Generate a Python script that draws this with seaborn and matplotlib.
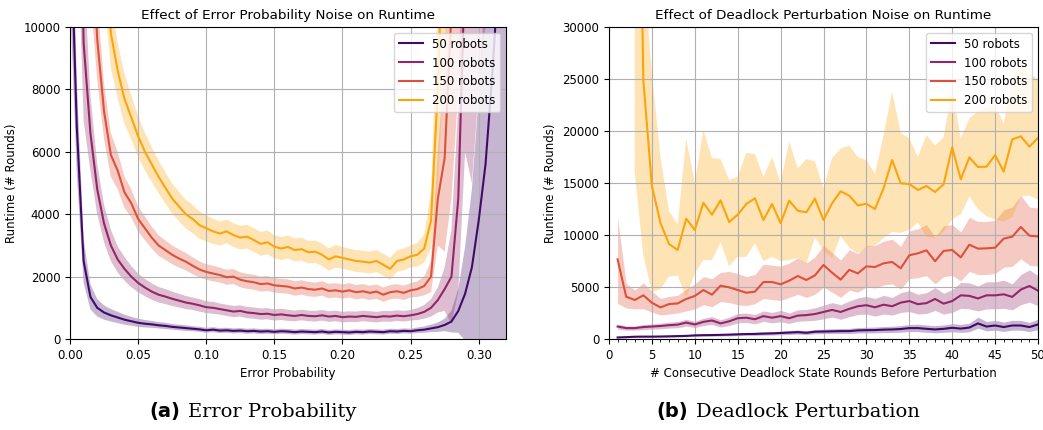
import numpy as np
import pandas as pd
import matplotlib
matplotlib.use("Agg")
import matplotlib.pyplot as plt
import seaborn as sns
from matplotlib.ticker import MultipleLocator, FormatStrFormatter

robots = ["50 robots", "100 robots", "150 robots", "200 robots"]

# ---- (a) error probability sweep ----
err_prob = np.round(np.arange(0, 0.3201, 0.005), 3)

ep_50 = [14000, 6800, 2500, 1350, 1000, 850, 760, 690, 620, 570, 520, 490, 470, 440, 420, 390, 370,
         350, 330, 310, 280, 300, 270, 280, 260, 270, 250, 260, 240, 250, 230, 250, 240, 220, 240,
         230, 220, 240, 210, 230, 220, 210, 230, 220, 240, 230, 220, 250, 240, 260, 250, 280, 300,
         340, 380, 450, 560, 900, 1450, 2300, 3800, 5600, 8500, 12000, 16000]
ep_100 = [40000, 20000, 9500, 6600, 4800, 3700, 3000, 2550, 2250, 2000, 1800, 1650, 1520, 1420, 1360,
          1290, 1230, 1170, 1130, 1080, 1020, 1000, 960, 920, 880, 900, 850, 830, 800, 810, 770, 790,
          760, 740, 770, 740, 730, 760, 720, 740, 700, 720, 710, 740, 720, 700, 730, 720, 750, 730,
          760, 800, 870, 1000, 1250, 1600, 2000, 4500, 12000, 15000, 20000, 24000, 28000, 32000, 36000]
ep_150 = [60000, 35000, 22000, 14000, 9600, 7300, 5900, 5400, 4700, 4350, 3850, 3550, 3250, 3000, 2850,
          2700, 2580, 2480, 2350, 2230, 2150, 2100, 2050, 1980, 2000, 1900, 1850, 1820, 1760, 1780,
          1720, 1700, 1680, 1620, 1650, 1600, 1580, 1620, 1540, 1560, 1520, 1560, 1500, 1530, 1480,
          1520, 1420, 1500, 1530, 1480, 1560, 1600, 1700, 2000, 4500, 5800, 10500, 18000, 25000,
          30000, 35000, 40000, 45000, 50000, 55000]
ep_200 = [80000, 50000, 35000, 25000, 18000, 13500, 9800, 8600, 7700, 7100, 6500, 6000, 5600, 5200,
          4850, 4500, 4250, 4000, 3850, 3650, 3550, 3450, 3380, 3450, 3330, 3250, 3280, 3170, 3050,
          3100, 2960, 2900, 2950, 2850, 2880, 2780, 2800, 2700, 2550, 2650, 2600, 2550, 2500, 2480,
          2450, 2500, 2380, 2250, 2500, 2550, 2650, 2700, 2900, 3800, 8000, 15000, 22000, 30000,
          38000, 45000, 52000, 60000, 68000, 75000, 80000]

# half width of the shaded band
ep_50_hw = [3000, 1500, 700, 400, 280, 230, 200, 180, 160, 140, 130, 120, 110, 100, 100, 90, 90, 90,
            80, 80, 80, 80, 80, 80, 80, 80, 80, 80, 80, 80, 80, 80, 80, 80, 80, 80, 80, 80, 80, 80,
            80, 80, 80, 80, 80, 80, 80, 80, 80, 80, 80, 90, 100, 120, 150, 200, 350, 700, 1500, 2500,
            4000, 6000, 8500, 12000, 16000]
ep_100_hw = [10000, 6000, 2500, 1200, 800, 600, 500, 420, 380, 340, 300, 280, 260, 250, 240, 230, 220,
             210, 200, 200, 190, 190, 180, 180, 180, 180, 180, 180, 180, 180, 180, 180, 180, 170, 170,
             170, 170, 170, 170, 170, 170, 170, 170, 170, 170, 170, 170, 170, 170, 170, 170, 190, 220,
             280, 400, 700, 1500, 3000, 6000, 10000, 12000, 14000, 16000, 18000, 20000]
ep_150_hw = [20000, 12000, 8000, 3000, 1300, 900, 700, 600, 500, 450, 400, 380, 350, 330, 310, 300, 290,
             280, 270, 260, 250, 250, 240, 240, 240, 240, 240, 240, 240, 240, 230, 230, 230, 230, 230,
             230, 230, 230, 230, 230, 230, 230, 230, 230, 230, 230, 230, 230, 230, 230, 230, 250, 300,
             500, 1500, 3000, 6000, 10000, 14000, 18000, 20000, 22000, 24000, 26000, 28000]
ep_200_hw = [30000, 20000, 15000, 10000, 6000, 2500, 1100, 900, 800, 700, 650, 600, 560, 520, 500, 480,
             470, 460, 450, 440, 420, 400, 390, 380, 380, 380, 380, 380, 380, 380, 370, 370, 370, 370,
             370, 360, 360, 360, 360, 360, 350, 350, 350, 350, 350, 350, 350, 350, 350, 350, 350, 380,
             450, 900, 3000, 6000, 10000, 14000, 18000, 22000, 26000, 30000, 34000, 38000, 40000]

# ---- (b) deadlock perturbation sweep ----
rounds = np.arange(1, 51)

dp_50 = [150, 180, 220, 230, 230, 240, 260, 280, 300, 350, 370, 380, 400, 420, 450, 480, 490, 520, 540,
         580, 620, 660, 600, 700, 720, 740, 760, 760, 830, 850, 860, 900, 920, 960, 1050, 1050, 980,
         920, 980, 1080, 1000, 1100, 1500, 1200, 1300, 1150, 1300, 1300, 1150, 1400]
dp_50_lo = [100, 130, 160, 170, 170, 180, 190, 200, 220, 260, 270, 280, 290, 300, 330, 350, 350, 370,
            380, 410, 440, 470, 420, 500, 510, 520, 530, 520, 580, 590, 590, 620, 630, 650, 720, 710,
            650, 600, 640, 700, 640, 700, 1050, 780, 850, 730, 850, 850, 720, 900]
dp_50_hi = [200, 240, 290, 300, 300, 310, 340, 370, 390, 450, 480, 490, 520, 550, 580, 620, 640, 680,
            710, 760, 820, 870, 800, 920, 950, 980, 1010, 1020, 1100, 1130, 1150, 1200, 1230, 1290, 1400,
            1420, 1350, 1280, 1350, 1480, 1400, 1530, 2100, 1680, 1800, 1620, 1800, 1780, 1600, 1900]

dp_100 = [1200, 1050, 1050, 1150, 1200, 1250, 1330, 1380, 1580, 1400, 1650, 1780, 1500, 1700, 2000, 2050,
          1900, 2200, 2050, 2200, 2000, 2250, 2300, 2400, 2600, 2800, 2600, 2900, 3150, 3250, 3050, 3300,
          3150, 3500, 3650, 3350, 3450, 3850, 3400, 3650, 4200, 4150, 3900, 4200, 4200, 4300, 4050, 4750,
          5100, 4650]
dp_100_lo = [950, 850, 850, 900, 950, 980, 1050, 1080, 1250, 1100, 1300, 1400, 1150, 1300, 1550, 1600,
             1450, 1700, 1550, 1650, 1500, 1700, 1750, 1800, 1950, 2100, 1900, 2150, 2350, 2400, 2200,
             2400, 2300, 2550, 2650, 2400, 2450, 2750, 2400, 2550, 2950, 2900, 2700, 2900, 2900, 2950,
             2800, 3300, 3550, 3200]
dp_100_hi = [1450, 1250, 1250, 1400, 1450, 1520, 1620, 1680, 1900, 1700, 2000, 2150, 1850, 2100, 2450,
             2500, 2350, 2700, 2550, 2750, 2500, 2800, 2850, 3000, 3250, 3500, 3300, 3650, 3950, 4100,
             3900, 4200, 4000, 4450, 4650, 4300, 4450, 4950, 4400, 4750, 5450, 5400, 5100, 5500, 5500,
             5650, 5300, 6200, 6650, 6100]

dp_150 = [7660, 4070, 3750, 4200, 3490, 3040, 3360, 3420, 3850, 4140, 4710, 4260, 5130, 4970, 4710, 4450,
          4550, 5480, 5480, 5260, 5610, 6060, 5670, 6120, 7120, 6380, 5710, 6650, 6310, 6990, 6920, 7280,
          7410, 6800, 8050, 8240, 8530, 7480, 8470, 8560, 7850, 9070, 8690, 8720, 8780, 9650, 9840,
          10770, 9930, 9870]
dp_150_lo = [3420, 2980, 2900, 2900, 2600, 2300, 2400, 2500, 2700, 2900, 3300, 3100, 3600, 3500, 3300,
             3200, 3400, 3900, 3800, 3700, 4000, 4300, 4000, 4300, 5000, 4500, 4000, 4700, 4500, 5000,
             4900, 5200, 5300, 4800, 5800, 5900, 6100, 5300, 6000, 6100, 5600, 6500, 6200, 6200, 6300,
             6900, 7000, 7700, 7100, 7000]
dp_150_hi = [11600, 5350, 4700, 5400, 4600, 3900, 4100, 4200, 4800, 5300, 6000, 5800, 6400, 6500, 6300,
             6000, 6200, 7200, 7100, 7000, 7300, 7800, 7300, 7900, 9000, 8300, 7600, 8600, 8200, 9000,
             9000, 9400, 9600, 8900, 10400, 10600, 11000, 9800, 10900, 11000, 10300, 11700, 11300, 11300,
             11400, 12400, 12700, 13800, 12700, 12600]

dp_200 = [np.nan, np.nan, 76000, 24900, 14700, 11150, 9130, 8560, 11570, 10480, 13100, 11950, 13330,
          11250, 11950, 12980, 13530, 11440, 12980, 11150, 13300, 12340, 12180, 13500, 11440, 13050,
          14200, 13780, 12850, 13000, 12500, 14490, 17210, 14970, 14900, 14330, 14710, 14130, 14880,
          18430, 15350, 17470, 16540, 16570, 17690, 16090, 19200, 19490, 18500, 19330]
dp_200_lo = [np.nan, np.nan, 16000, 8000, 4500, 4800, 6000, 6100, 4000, 6300, 7600, 7600, 9300, 7000,
             7900, 7900, 9200, 7500, 7900, 7500, 7600, 7800, 7200, 9800, 8500, 7800, 9900, 8800, 8200,
             8800, 9000, 9700, 10300, 10200, 10500, 11200, 9800, 9700, 10300, 11500, 12000, 13700,
             12500, 11800, 11500, 11300, 11700, 13700, 13800, 13400]
dp_200_hi = [np.nan, np.nan, 140000, 36000, 25500, 17500, 12300, 11000, 19300, 15000, 20100, 17400,
             17300, 15300, 15600, 17900, 17800, 15600, 17500, 15000, 19000, 16400, 17300, 17100, 14500,
             17400, 18300, 18600, 17500, 17200, 15900, 19600, 23800, 19800, 19300, 17500, 19600, 18600,
             19400, 24000, 19300, 21200, 21900, 22200, 22500, 20700, 25000, 26500, 25500, 25000]

colors = sns.color_palette("inferno", 4)
FS = 8.5
TFS = 9.7

fig = plt.figure(figsize=(10.43, 4.3), dpi=100)
ax1 = fig.add_axes([0.0671, 0.2116, 0.418, 0.7256])
ax2 = fig.add_axes([0.5839, 0.2116, 0.4113, 0.7256])

# left panel
ep_means = [ep_50, ep_100, ep_150, ep_200]
ep_hws = [ep_50_hw, ep_100_hw, ep_150_hw, ep_200_hw]
frames = []
for lab, m, hw, c in zip(robots, ep_means, ep_hws, colors):
    m = np.array(m, float)
    hw = np.array(hw, float)
    ax1.fill_between(err_prob, m - hw, m + hw, color=c, alpha=0.3, lw=0)
    frames.append(pd.DataFrame({"p": err_prob, "runtime": m, "robots": lab}))
df_a = pd.concat(frames)
sns.lineplot(data=df_a, x="p", y="runtime", hue="robots", hue_order=robots,
             palette=colors, errorbar=None, lw=1.5, ax=ax1)

# right panel
dp_means = [dp_50, dp_100, dp_150, dp_200]
dp_lo = [dp_50_lo, dp_100_lo, dp_150_lo, dp_200_lo]
dp_hi = [dp_50_hi, dp_100_hi, dp_150_hi, dp_200_hi]
frames = []
for lab, m, lo, hi, c in zip(robots, dp_means, dp_lo, dp_hi, colors):
    ax2.fill_between(rounds, lo, hi, color=c, alpha=0.3, lw=0)
    frames.append(pd.DataFrame({"k": rounds, "runtime": m, "robots": lab}))
df_b = pd.concat(frames).dropna()
sns.lineplot(data=df_b, x="k", y="runtime", hue="robots", hue_order=robots,
             palette=colors, errorbar=None, lw=1.5, ax=ax2)

ax1.set_xlim(0, 0.32)
ax1.set_ylim(0, 10000)
ax1.xaxis.set_major_locator(MultipleLocator(0.05))
ax1.xaxis.set_major_formatter(FormatStrFormatter("%.2f"))
ax1.yaxis.set_major_locator(MultipleLocator(2000))
ax1.set_title("Effect of Error Probability Noise on Runtime", fontsize=TFS)
ax1.set_xlabel("Error Probability", fontsize=FS)
ax1.set_ylabel("Runtime (# Rounds)", fontsize=FS)

ax2.set_xlim(0, 50)
ax2.set_ylim(0, 30000)
ax2.xaxis.set_major_locator(MultipleLocator(5))
ax2.xaxis.set_minor_locator(MultipleLocator(1))
ax2.yaxis.set_major_locator(MultipleLocator(5000))
ax2.set_title("Effect of Deadlock Perturbation Noise on Runtime", fontsize=TFS)
ax2.set_xlabel("# Consecutive Deadlock State Rounds Before Perturbation", fontsize=FS)
ax2.set_ylabel("Runtime (# Rounds)", fontsize=FS)

for ax in (ax1, ax2):
    ax.grid(True, color="#b0b0b0", lw=0.8)
    ax.tick_params(labelsize=FS)
    sns.move_legend(ax, "upper right", title=None, fontsize=FS)

# sub captions
fig.text(180 / 1043, 0.042, "(a)", ha="right", va="center", fontsize=14, fontweight="bold",
         family="DejaVu Sans")
fig.text(188 / 1043, 0.042, "Error Probability", ha="left", va="center", fontsize=14,
         family="DejaVu Serif")
fig.text(688 / 1043, 0.042, "(b)", ha="right", va="center", fontsize=14, fontweight="bold",
         family="DejaVu Sans")
fig.text(696 / 1043, 0.042, "Deadlock Perturbation", ha="left", va="center", fontsize=14,
         family="DejaVu Serif")

fig.savefig("out.png", dpi=100)
